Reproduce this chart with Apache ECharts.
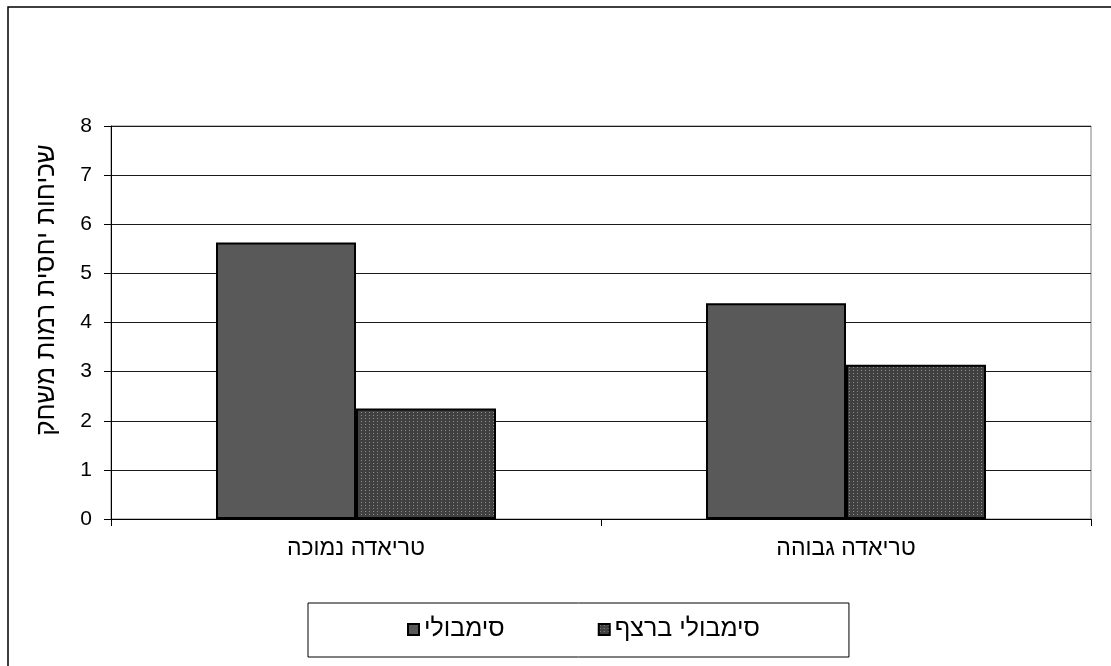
<!DOCTYPE html>
<html>
<head>
<meta charset="utf-8">
<script src="https://cdn.jsdelivr.net/npm/echarts@6/dist/echarts.min.js"></script>
<style>
  html, body { margin: 0; padding: 0; background: #fff; }
  #chart { width: 1111px; height: 666px; }
</style>
</head>
<body>
<div id="chart"></div>
<script>
// Categories and series values
const categories = ['טריאדה נמוכה', 'טריאדה גבוהה'];
const seriesNames = ['סימבולי', 'סימבולי ברצף'];
const symbolicValues = [5.63, 4.39];
const continuousValues = [2.25, 3.14];
const yAxisTitle = 'שכיחות יחסית רמות משחק';

const FONT = '"Liberation Sans", Arial, sans-serif';

// Dotted fill for the second series
function dotPattern() {
  const c = document.createElement('canvas');
  c.width = 4; c.height = 3;
  const g = c.getContext('2d');
  g.fillStyle = '#404040';
  g.fillRect(0, 0, 4, 3);
  g.fillStyle = '#8e8e8e';
  g.fillRect(1, 1, 1, 1);
  return c;
}

const chart = echarts.init(document.getElementById('chart'), null, { renderer: 'canvas' });

chart.setOption({
  animation: false,
  backgroundColor: '#fff',
  grid: {
    left: 111, right: 20, top: 126, bottom: 147,
    show: true, borderColor: '#808080', borderWidth: 1, backgroundColor: 'transparent'
  },
  legend: {
    left: 308, top: 603,
    orient: 'horizontal',
    padding: [14, 89, 15, 99],
    itemGap: 93,
    itemWidth: 11, itemHeight: 11,
    icon: 'rect',
    borderColor: '#000', borderWidth: 1,
    textStyle: { fontFamily: FONT, fontSize: 25, color: '#000', lineHeight: 25 },
    data: seriesNames
  },
  xAxis: {
    type: 'category',
    data: categories,
    axisLine: { lineStyle: { color: '#000', width: 1 } },
    axisTick: { show: true, length: 7, alignWithLabel: false, lineStyle: { color: '#000' } },
    axisLabel: { fontFamily: FONT, fontSize: 23, color: '#000', margin: 18 },
    splitLine: { show: false }
  },
  yAxis: {
    type: 'value',
    min: 0, max: 8, interval: 1,
    axisLine: { show: true, lineStyle: { color: '#000', width: 1 } },
    axisTick: { show: true, length: 7, inside: false, lineStyle: { color: '#000' } },
    axisLabel: { fontFamily: FONT, fontSize: 21, color: '#000', margin: 19 },
    splitLine: { show: true, lineStyle: { color: '#1a1a1a', width: 1 } }
  },
  series: [
    {
      name: seriesNames[0],
      type: 'bar',
      data: symbolicValues,
      barWidth: 140,
      barGap: '0%',
      itemStyle: { color: '#595959', borderColor: '#000', borderWidth: 2 }
    },
    {
      name: seriesNames[1],
      type: 'bar',
      data: continuousValues,
      barWidth: 140,
      barGap: '0%',
      itemStyle: { color: { image: dotPattern(), repeat: 'repeat' }, borderColor: '#000', borderWidth: 2 }
    }
  ],
  graphic: [
    {
      type: 'rect',
      shape: { x: 8, y: 7, width: 1300, height: 1000 },
      style: { fill: 'none', stroke: '#000', lineWidth: 1.5 },
      silent: true, z: -1
    },
    {
      type: 'text',
      x: 47, y: 290,
      rotation: Math.PI / 2,
      style: {
        text: yAxisTitle,
        fontFamily: FONT, fontSize: 26, fill: '#000',
        align: 'center', verticalAlign: 'middle'
      }
    }
  ]
});
</script>
</body>
</html>
